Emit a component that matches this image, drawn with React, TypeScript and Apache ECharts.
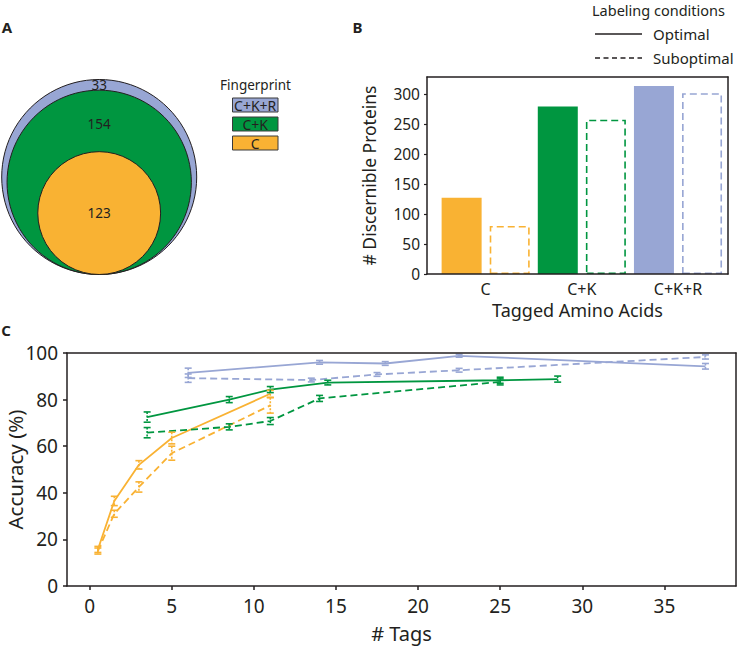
import React, { useEffect, useRef } from "react";
import * as echarts from "echarts";

const FONT = "'Noto Sans', sans-serif";
const INK = "#231F20";
const ORANGE = "#F9B233";
const GREEN = "#009640";
const BLUE = "#98A6D4";

// ---------- Panel A: nested fingerprint Venn (outer -> inner) ----------
const fingerprintLabels = ["C+K+R", "C+K", "C"];
const fingerprintCounts = [33, 154, 123];
const fingerprintColors = [BLUE, GREEN, ORANGE];

// ---------- Panel B: discernible proteins ----------
const aminoAcidCategories = ["C", "C+K", "C+K+R"];
const proteinsOptimal = [127, 279, 313];
const proteinsSuboptimal = [80, 257, 301];
const proteinTicks = [0, 50, 100, 150, 200, 250, 300];
const categoryColors = [ORANGE, GREEN, BLUE];

// ---------- Panel C: accuracy vs number of tags ----------
const tagTicks = [0, 5, 10, 15, 20, 25, 30, 35];

const cOptTags = [0.5, 1.5, 3, 5, 11];
const cOptAcc = [15.7, 36.5, 52, 63.5, 82.5];
const cOptErr = [1.3, 2, 1.8, 2.5, 1.5];
const cSubTags = [0.5, 1.5, 3, 5, 11];
const cSubAcc = [15, 31, 42.5, 57, 77.5];
const cSubErr = [1.3, 1.5, 2.2, 3, 3.3];

const ckOptTags = [3.5, 8.5, 11, 14.5, 25, 28.5];
const ckOptAcc = [72.5, 80, 84.3, 87.3, 88.3, 88.8];
const ckOptErr = [2.2, 1.3, 1.3, 1, 1.3, 1.3];
const ckSubTags = [3.5, 8.5, 11, 14, 25];
const ckSubAcc = [65.8, 68.3, 70.8, 80.5, 87.6];
const ckSubErr = [2.2, 1.3, 1.5, 1.3, 1.3];

const ckrOptTags = [6, 14, 18, 22.5, 37.5];
const ckrOptAcc = [91.5, 96, 95.5, 98.8, 94.3];
const ckrOptErr = [2, 0.8, 0.8, 0.6, 1.2];
const ckrSubTags = [6, 13.5, 17.5, 22.5, 37.5];
const ckrSubAcc = [89.2, 88.4, 90.8, 92.6, 98.3];
const ckrSubErr = [1.8, 0.8, 0.8, 0.8, 0.9];

const DASH = [7, 4];

function zip(xs: number[], ys: number[]) {
  return xs.map((x, i) => [x, ys[i]]);
}
function zip3(xs: number[], ys: number[], es: number[]) {
  return xs.map((x, i) => [x, ys[i], es[i]]);
}

function lineSeries(name: string, xs: number[], ys: number[], color: string, dashed: boolean) {
  return {
    type: "line",
    name,
    xAxisIndex: 2,
    yAxisIndex: 2,
    data: zip(xs, ys),
    symbol: "none",
    lineStyle: { color, width: 1.8, type: dashed ? DASH : "solid" },
    z: 3,
  };
}

function errorSeries(xs: number[], ys: number[], es: number[], color: string) {
  return {
    type: "custom",
    xAxisIndex: 2,
    yAxisIndex: 2,
    data: zip3(xs, ys, es),
    z: 4,
    renderItem: (params: any, api: any) => {
      const x = api.value(0);
      const y = api.value(1);
      const e = api.value(2);
      const top = api.coord([x, y + e]);
      const bot = api.coord([x, y - e]);
      const w = 3.5;
      return {
        type: "group",
        children: [
          {
            type: "line",
            shape: { x1: top[0], y1: top[1], x2: bot[0], y2: bot[1] },
            style: { stroke: color, lineWidth: 1.6, lineDash: [2, 1.5] },
          },
          {
            type: "line",
            shape: { x1: top[0] - w, y1: top[1], x2: top[0] + w, y2: top[1] },
            style: { stroke: color, lineWidth: 1.6 },
          },
          {
            type: "line",
            shape: { x1: bot[0] - w, y1: bot[1], x2: bot[0] + w, y2: bot[1] },
            style: { stroke: color, lineWidth: 1.6 },
          },
        ],
      };
    },
  };
}

function buildVennData() {
  const totals = fingerprintCounts.map((_, i) =>
    fingerprintCounts.slice(i).reduce((a, b) => a + b, 0)
  );
  const maxTotal = totals[0];
  const radii = totals.map((t) => Math.sqrt(t / maxTotal));
  const centers = radii.map((r) => -1 + r);
  return fingerprintCounts.map((count, i) => {
    let labelY: number;
    if (i < fingerprintCounts.length - 1) {
      const outerTop = centers[i] + radii[i];
      const innerTop = centers[i + 1] + radii[i + 1];
      labelY = innerTop + 0.45 * (outerTop - innerTop);
    } else {
      labelY = centers[i];
    }
    return [0, centers[i], radii[i], labelY, count];
  });
}

function textStyle(size: number, extra: any = {}) {
  return { fontSize: size, fontFamily: FONT, color: INK, ...extra };
}

function frameAxis(gridIndex: number, position: string) {
  return {
    gridIndex,
    type: "value",
    position,
    min: 0,
    max: 1,
    z: 10,
    axisLine: { show: true, onZero: false, lineStyle: { color: INK, width: 1.5 } },
    axisTick: { show: false },
    axisLabel: { show: false },
    splitLine: { show: false },
  };
}

export default function App() {
  const ref = useRef<HTMLDivElement>(null);

  useEffect(() => {
    if (!ref.current) return;
    const chart = echarts.init(ref.current, undefined, { renderer: "svg" });

    const barData: any[] = [];
    aminoAcidCategories.forEach((_, i) => {
      barData.push({
        value: [2 * i + 0.5, proteinsOptimal[i]],
        itemStyle: { color: categoryColors[i] },
      });
      barData.push({
        value: [2 * i + 1.5, proteinsSuboptimal[i]],
        itemStyle: {
          color: "#ffffff",
          borderColor: categoryColors[i],
          borderWidth: 1.6,
          borderType: DASH,
        },
      });
    });

    const gText = (text: string, x: number, y: number, size: number, align = "left", bold = false) => ({
      type: "text",
      z: 20,
      style: {
        text,
        x,
        y,
        fill: INK,
        fontSize: size,
        fontFamily: FONT,
        fontWeight: bold ? "bold" : "normal",
        align,
        verticalAlign: "middle",
        textAlign: align,
        textVerticalAlign: "middle",
      },
    });

    const legendA: any[] = [gText("Fingerprint", 255.5, 85, 13.5, "center")];
    fingerprintLabels.forEach((lab, i) => {
      const y = 98 + i * 19;
      legendA.push({
        type: "rect",
        z: 20,
        shape: { x: 232.5, y, width: 45.5, height: 14 },
        style: { fill: fingerprintColors[i], stroke: "#3a3a3a", lineWidth: 1 },
      });
      legendA.push(gText(lab, 255.2, y + 7.3, 14, "center"));
    });

    const option: any = {
      animation: false,
      backgroundColor: "#ffffff",
      grid: [
        { left: 1.7, top: 79.5, width: 195, height: 195, outerBoundsMode: "none", containLabel: false },
        { left: 427, top: 77, width: 301, height: 197, outerBoundsMode: "none", containLabel: false },
        { left: 67, top: 353, width: 669, height: 233, outerBoundsMode: "none", containLabel: false },
      ],
      xAxis: [
        { gridIndex: 0, type: "value", min: -1, max: 1, show: false },
        {
          gridIndex: 1,
          type: "value",
          position: "bottom",
          min: -0.22,
          max: 6.04,
          z: 10,
          axisLine: { onZero: false, lineStyle: { color: INK, width: 1.5 } },
          axisTick: { show: false },
          splitLine: { show: false },
          axisLabel: {
            customValues: [1, 3, 5],
            formatter: (v: number) => aminoAcidCategories[Math.round((v - 1) / 2)] ?? "",
            margin: 7,
            ...textStyle(16),
          },
          name: "Tagged Amino Acids",
          nameLocation: "middle",
          nameGap: 27,
          nameMoveOverlap: false,
          nameTextStyle: textStyle(18),
        },
        {
          gridIndex: 2,
          type: "value",
          position: "bottom",
          min: -1.38,
          max: 39.36,
          z: 10,
          axisLine: { onZero: false, lineStyle: { color: INK, width: 1.5 } },
          axisTick: {
            customValues: tagTicks,
            length: 4,
            lineStyle: { color: INK, width: 1.5 },
          },
          splitLine: { show: false },
          axisLabel: {
            customValues: tagTicks,
            margin: 10,
            ...textStyle(19),
          },
          name: "# Tags",
          nameLocation: "middle",
          nameGap: 37,
          nameMoveOverlap: false,
          nameTextStyle: textStyle(20),
        },
        frameAxis(1, "top"),
        frameAxis(2, "top"),
      ],
      yAxis: [
        { gridIndex: 0, type: "value", min: -1, max: 1, show: false },
        {
          gridIndex: 1,
          type: "value",
          position: "left",
          min: 0,
          max: 328,
          z: 10,
          axisLine: { show: true, onZero: false, lineStyle: { color: INK, width: 1.5 } },
          axisTick: {
            show: true,
            customValues: proteinTicks,
            length: 3,
            lineStyle: { color: INK, width: 1.2 },
          },
          splitLine: { show: false },
          axisLabel: {
            customValues: proteinTicks,
            margin: 7,
            ...textStyle(15.5),
          },
          name: "# Discernible Proteins",
          nameLocation: "middle",
          nameGap: 49,
          nameMoveOverlap: false,
          nameTextStyle: textStyle(17.5),
        },
        {
          gridIndex: 2,
          type: "value",
          position: "left",
          min: 0,
          max: 100,
          interval: 20,
          z: 10,
          axisLine: { show: true, onZero: false, lineStyle: { color: INK, width: 1.5 } },
          axisTick: { show: true, length: 4, lineStyle: { color: INK, width: 1.5 } },
          splitLine: { show: false },
          axisLabel: { margin: 9, ...textStyle(19) },
          name: "Accuracy (%)",
          nameLocation: "middle",
          nameGap: 42,
          nameMoveOverlap: false,
          nameTextStyle: textStyle(20.5),
        },
        frameAxis(1, "right"),
        frameAxis(2, "right"),
      ],
      series: [
        {
          type: "custom",
          xAxisIndex: 0,
          yAxisIndex: 0,
          data: buildVennData(),
          renderItem: (params: any, api: any) => {
            const idx = params.dataIndex;
            const c = api.coord([api.value(0), api.value(1)]);
            const r = api.size([api.value(2), 0])[0];
            const lp = api.coord([api.value(0), api.value(3)]);
            return {
              type: "group",
              children: [
                {
                  type: "circle",
                  z2: idx,
                  shape: { cx: c[0], cy: c[1], r },
                  style: { fill: fingerprintColors[idx], stroke: INK, lineWidth: 1 },
                },
                {
                  type: "text",
                  z2: 100,
                  style: {
                    text: String(api.value(4)),
                    x: lp[0],
                    y: lp[1],
                    fill: INK,
                    fontSize: 13.5,
                    fontFamily: FONT,
                    align: "center",
                    verticalAlign: "middle",
                    textAlign: "center",
                    textVerticalAlign: "middle",
                  },
                },
              ],
            };
          },
        },
        {
          type: "bar",
          xAxisIndex: 1,
          yAxisIndex: 1,
          barWidth: 40,
          data: barData,
        },
        lineSeries("C optimal", cOptTags, cOptAcc, ORANGE, false),
        lineSeries("C suboptimal", cSubTags, cSubAcc, ORANGE, true),
        lineSeries("C+K optimal", ckOptTags, ckOptAcc, GREEN, false),
        lineSeries("C+K suboptimal", ckSubTags, ckSubAcc, GREEN, true),
        lineSeries("C+K+R optimal", ckrOptTags, ckrOptAcc, BLUE, false),
        lineSeries("C+K+R suboptimal", ckrSubTags, ckrSubAcc, BLUE, true),
        errorSeries(cOptTags, cOptAcc, cOptErr, ORANGE),
        errorSeries(cSubTags, cSubAcc, cSubErr, ORANGE),
        errorSeries(ckOptTags, ckOptAcc, ckOptErr, GREEN),
        errorSeries(ckSubTags, ckSubAcc, ckSubErr, GREEN),
        errorSeries(ckrOptTags, ckrOptAcc, ckrOptErr, BLUE),
        errorSeries(ckrSubTags, ckrSubAcc, ckrSubErr, BLUE),
      ],
      graphic: [
        gText("A", 7, 26.5, 15, "center", true),
        gText("B", 357.5, 27, 15, "center", true),
        gText("C", 6, 330, 15, "center", true),
        ...legendA,
        gText("Labeling conditions", 592, 9.5, 14.5, "left"),
        {
          type: "line",
          z: 20,
          shape: { x1: 595, y1: 34, x2: 642, y2: 34 },
          style: { stroke: INK, lineWidth: 1.5 },
        },
        gText("Optimal", 653, 34, 15, "left"),
        {
          type: "line",
          z: 20,
          shape: { x1: 595, y1: 58, x2: 642, y2: 58 },
          style: { stroke: INK, lineWidth: 1.5, lineDash: [5, 3.5] },
        },
        gText("Suboptimal", 653, 58, 15, "left"),
      ],
    };

    chart.setOption(option);
    return () => {
      chart.dispose();
    };
  }, []);

  return (
    <div
      ref={ref}
      style={{ position: "fixed", left: 0, top: 0, width: 737, height: 654, background: "#fff" }}
    />
  );
}
